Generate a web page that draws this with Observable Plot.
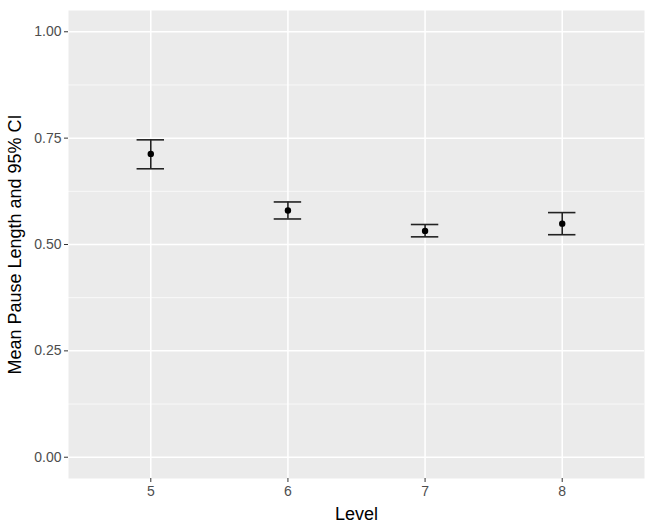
<!DOCTYPE html>
<html>
<head>
<meta charset="utf-8">
<script src="https://cdn.jsdelivr.net/npm/d3@7"></script>
<script src="https://cdn.jsdelivr.net/npm/@observablehq/plot@0.6"></script>
<style>
  html, body { margin: 0; padding: 0; background: #ffffff; }
  #chart svg { display: block; }
</style>
</head>
<body>
<div id="chart"></div>
<script>
const levels = [5, 6, 7, 8];
const means  = [0.713, 0.580, 0.532, 0.549];
const lowers = [0.678, 0.560, 0.518, 0.523];
const uppers = [0.746, 0.600, 0.547, 0.575];
const yTicks = [0, 0.25, 0.5, 0.75, 1];
const yMinorTicks = [0.125, 0.375, 0.625, 0.875];
const capHalfWidth = 0.1;

const data = levels.map((l, i) => ({level: l, mean: means[i], lo: lowers[i], hi: uppers[i]}));

const font = "'Liberation Sans', Arial, Helvetica, sans-serif";

const chart = Plot.plot({
  width: 646,
  height: 524,
  marginLeft: 68,
  marginRight: 2,
  marginTop: 10,
  marginBottom: 46,
  style: {fontFamily: font, background: "#ffffff"},
  x: {domain: [4.4, 8.6]},
  y: {domain: [-0.05, 1.05]},
  marks: [
    Plot.frame({fill: "#EBEBEB", stroke: null}),
    Plot.gridY(yMinorTicks, {stroke: "#ffffff", strokeOpacity: 1, strokeWidth: 0.7}),
    Plot.gridY(yTicks, {stroke: "#ffffff", strokeOpacity: 1, strokeWidth: 1.5}),
    Plot.gridX(levels, {stroke: "#ffffff", strokeOpacity: 1, strokeWidth: 1.5}),
    Plot.axisY(yTicks, {
      tickFormat: d3.format(".2f"), tickSize: 4, tickPadding: 3,
      stroke: "#333333", color: "#4D4D4D", fontSize: 14,
      label: "Mean Pause Length and 95% CI", labelAnchor: "center", labelArrow: "none",
      labelOffset: 60
    }),
    Plot.axisX(levels, {
      tickFormat: d => String(d), tickSize: 4, tickPadding: 4,
      stroke: "#333333", color: "#4D4D4D", fontSize: 14,
      label: "Level", labelAnchor: "center", labelArrow: "none",
      labelOffset: 41
    }),
    Plot.ruleX(data, {x: "level", y1: "lo", y2: "hi", stroke: "#222222", strokeWidth: 1.6}),
    Plot.ruleY(data, {y: "hi", x1: d => d.level - capHalfWidth, x2: d => d.level + capHalfWidth, stroke: "#222222", strokeWidth: 1.6}),
    Plot.ruleY(data, {y: "lo", x1: d => d.level - capHalfWidth, x2: d => d.level + capHalfWidth, stroke: "#222222", strokeWidth: 1.6}),
    Plot.dot(data, {x: "level", y: "mean", r: 3.2, fill: "#000000", stroke: null})
  ]
});

// style axis titles
chart.querySelectorAll("[aria-label='y-axis label'] text, [aria-label='x-axis label'] text").forEach(t => {
  t.setAttribute("fill", "#000000");
  t.style.fontSize = "18px";
});

document.getElementById("chart").appendChild(chart);
</script>
</body>
</html>
